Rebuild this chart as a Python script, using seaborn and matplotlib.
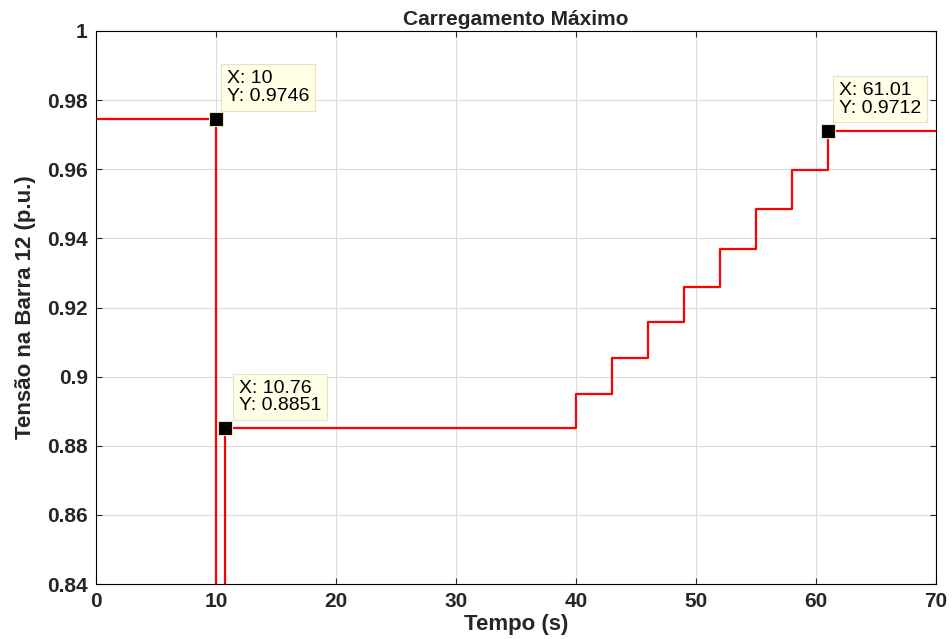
import numpy as np
import pandas as pd
import matplotlib
matplotlib.use("Agg")
import matplotlib.pyplot as plt
import seaborn as sns

# step change times (s) and bus 12 voltage levels (p.u.)
tempo = [0, 10, 10.76, 40, 43, 46, 49, 52, 55, 58, 61.01, 70]
tensao = [0.9746, 0.5, 0.8851, 0.895, 0.9053, 0.9157, 0.926, 0.937, 0.9485, 0.9597, 0.9712, 0.9712]

# data tips
tip_x = [10, 10.76, 61.01]
tip_y = [0.9746, 0.8851, 0.9712]
tip_text = ["X: 10\nY: 0.9746", "X: 10.76\nY: 0.8851", "X: 61.01\nY: 0.9712"]

df = pd.DataFrame({"t": tempo, "v": tensao})

sns.set_style("whitegrid")
plt.rcParams["font.family"] = ["Liberation Sans", "DejaVu Sans"]

fig = plt.figure(figsize=(9.52, 6.39), dpi=100)
ax = fig.add_axes([96/952, 1 - 584/639, 840/952, 553/639])

sns.lineplot(data=df, x="t", y="v", ax=ax, color="#ff0000", linewidth=1.6,
             drawstyle="steps-post", estimator=None, sort=False)

ax.plot(tip_x, tip_y, linestyle="none", marker="s", markersize=10,
        markerfacecolor="black", markeredgecolor="#e8e4c0", markeredgewidth=0.8, zorder=5)

offsets = [(8, 10), (10, 10), (8, 10)]
for x, y, s, off in zip(tip_x, tip_y, tip_text, offsets):
    ax.annotate(s, (x, y), xytext=off, textcoords="offset points", fontsize=14,
                color="black", linespacing=1.05, va="bottom", ha="left", zorder=6,
                bbox=dict(boxstyle="square,pad=0.3", fc="#ffffe6", ec="#e6e2c8", lw=0.8))

ax.set_xlim(0, 70)
ax.set_ylim(0.84, 1)
ax.set_xticks(np.arange(0, 71, 10))
ax.set_yticks(np.arange(0.84, 1.001, 0.02))
ax.set_yticklabels(["0.84", "0.86", "0.88", "0.9", "0.92", "0.94", "0.96", "0.98", "1"])

ax.grid(True, color="#dcdcdc", linewidth=0.8)
for sp in ax.spines.values():
    sp.set_color("black")
    sp.set_linewidth(0.8)
ax.tick_params(direction="in", length=4, width=0.8, labelsize=15, pad=6,
               top=True, right=True, bottom=True, left=True)
for lab in ax.get_xticklabels() + ax.get_yticklabels():
    lab.set_fontweight("bold")

ax.set_title("Carregamento Máximo", fontsize=15, fontweight="bold", pad=4)
ax.set_xlabel("Tempo (s)", fontsize=16, fontweight="bold", labelpad=2)
ax.set_ylabel("Tensão na Barra 12 (p.u.)", fontsize=16, fontweight="bold", labelpad=8)

fig.savefig("out.png", dpi=100)
